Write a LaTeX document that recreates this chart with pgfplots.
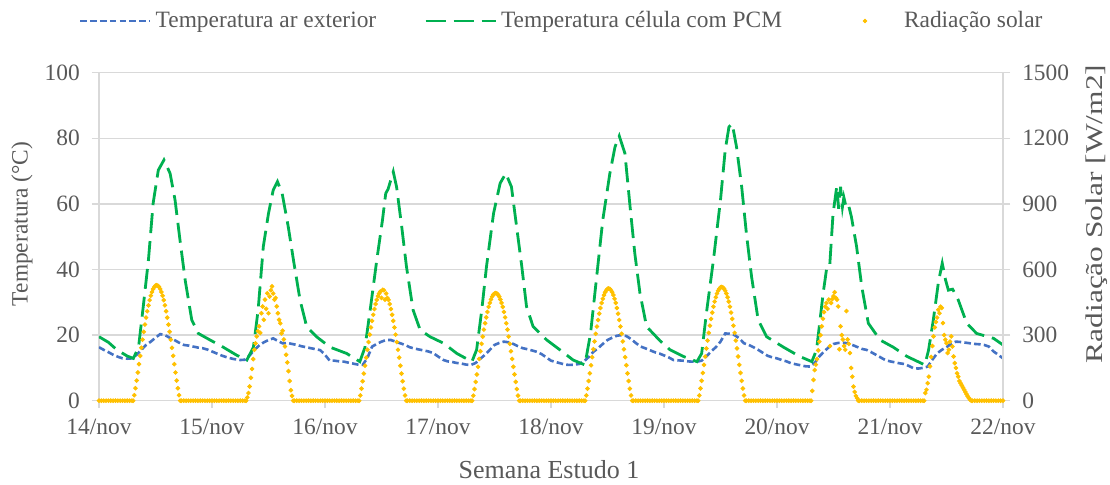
\documentclass[border=0pt]{standalone}
\usepackage{fontspec}
\setmainfont{Liberation Serif}
\usepackage{pgfplots}
\pgfplotsset{compat=1.18}

\definecolor{tblue}{HTML}{4472C4}
\definecolor{tgreen}{HTML}{00B050}
\definecolor{tyellow}{HTML}{FFC000}
\definecolor{gridgray}{HTML}{D9D9D9}
\definecolor{txtgray}{HTML}{595959}
\newcommand{\chartfont}{\fontsize{11.7}{14}\selectfont}
\newcommand{\titlefont}{\fontsize{13}{15}\selectfont}

\pgfplotsset{
  linelegend/.style={legend image code/.code={\draw[##1] (0pt,0pt) -- (35pt,0pt);}},
  dotlegend/.style={legend image code/.code={\path[draw=none] (0pt,0pt) -- (35pt,0pt);\draw[##1] plot coordinates {(17.5pt,0pt)};}},
  base/.style={
    at={(0pt,0pt)}, anchor=south west, scale only axis, width=452pt, height=164pt,
    xmin=0, xmax=192,
    tick align=outside, major tick length=3.5pt,
    tick style={gridgray, line width=0.75pt},
    tick label style={font=\chartfont, text=txtgray},
    label style={font=\chartfont, text=txtgray},
    /pgf/number format/assume math mode=true,
    /pgf/number format/1000 sep={},
  },
}

\begin{document}
\begin{tikzpicture}
\useasboundingbox (-49.5pt,-42.15pt) rectangle (505.5pt,200.35pt);

% temperatures (left axis), time in hours from 14/nov 00:00
\begin{axis}[base,
  ymin=0, ymax=100, ytick={0,20,...,100}, ytick pos=left,
  xtick={0,24,...,192}, xtick pos=bottom,
  xticklabels={14/nov,15/nov,16/nov,17/nov,18/nov,19/nov,20/nov,21/nov,22/nov},
  ymajorgrids, grid style={gridgray, line width=0.75pt},
  axis line style={gridgray, line width=0.75pt},
  yticklabel style={xshift=-2.6pt},
  xticklabel style={yshift=-2.2pt},
  xlabel={Semana Estudo 1},
  xlabel style={at={(axis description cs:0.4978,-0.2113)}, anchor=center, font=\titlefont},
  ylabel={Temperatura (°C)},
  ylabel style={at={(axis description cs:-0.0852,0.539)}, anchor=center},
]
\addplot[tblue, line width=1.3pt, dash pattern=on 3.3pt off 1.6pt] table {
x y
0 16.3
1 15.5
2 14.8
3 14.0
4 13.4
5 12.9
6 12.8
7 12.9
8 14.0
9 15.5
10 17.0
11 18.0
12 19.2
13 20.3
14 20.0
15 19.2
16 18.5
17 17.7
18 17.0
19 16.8
20 16.5
21 16.2
22 16.0
23 15.6
24 15.0
25 14.4
26 13.8
27 13.3
28 12.9
29 12.6
30 12.4
31 12.5
32 13.8
33 15.5
34 16.8
35 17.8
36 18.5
37 19.0
38 18.2
39 17.5
40 17.6
41 17.3
42 17.0
43 16.6
44 16.3
45 16.0
46 15.7
47 15.4
48 14.0
49 12.2
50 12.2
51 12.0
52 11.9
53 11.6
54 11.3
55 11.0
56 10.9
57 13.0
58 16.5
59 17.3
60 18.0
61 18.5
62 18.5
63 18.0
64 17.5
65 17.0
66 16.3
67 15.9
68 15.6
69 15.3
70 15.0
71 14.5
72 13.5
73 12.5
74 12.0
75 11.8
76 11.5
77 11.3
78 11.0
79 10.9
80 11.5
81 12.8
82 14.0
83 15.5
84 17.0
85 17.6
86 18.0
87 17.8
88 17.3
89 16.6
90 16.0
91 15.7
92 15.3
93 14.9
94 14.2
95 13.2
96 12.2
97 11.8
98 11.4
99 11.0
100 10.9
101 11.0
102 11.2
103 12.0
104 13.3
105 14.9
106 16.0
107 17.3
108 18.5
109 19.2
110 19.8
111 20.0
112 19.7
113 18.8
114 17.6
115 16.5
116 16.0
117 15.4
118 14.8
119 14.4
120 13.8
121 13.2
122 12.4
123 12.3
124 12.2
125 12.0
126 11.9
127 11.9
128 12.2
129 13.5
130 15.0
131 16.3
132 18.0
133 20.5
134 20.4
135 20.0
136 19.0
137 17.5
138 17.0
139 16.3
140 15.5
141 14.6
142 13.7
143 13.2
144 12.9
145 12.4
146 12.0
147 11.4
148 11.1
149 10.8
150 10.5
151 10.4
152 11.5
153 13.5
154 15.0
155 16.3
156 17.3
157 17.6
158 17.7
159 17.5
160 17.0
161 16.4
162 15.8
163 15.5
164 14.8
165 14.0
166 13.2
167 12.4
168 12.0
169 11.7
170 11.4
171 11.2
172 10.6
173 9.9
174 9.8
175 10.0
176 10.4
177 12.5
178 14.4
179 15.5
180 16.3
181 17.4
182 18.0
183 17.9
184 17.7
185 17.5
186 17.3
187 17.2
188 17.0
189 16.5
190 15.0
191 14.0
192 12.9
};
\addplot[tgreen, line width=1.4pt, dash pattern=on 10pt off 4pt] table {
x y
0 19.5
2 17.8
3.8 15.5
6 13.6
7.3 12.9
8.4 16.3
9.4 28.7
10.5 42.9
11.5 60.2
12.6 70.3
13.8 73.4
15.1 69.3
16.15 61.2
17.2 49.0
18.3 36.8
19.7 24.6
21.1 20.5
23.6 18.5
26.4 16.3
29.2 13.9
31.4 12.4
32.8 16.3
33.8 27.7
34.9 47.0
36 57.1
37 64.2
37.9 66.8
38.9 63.2
40.2 53.0
41.3 42.9
42.7 30.7
44.1 22.6
46.2 19.5
49.1 16.3
52.6 14.4
55.4 11.9
56.5 16.3
57.6 27.7
59 42.9
60.2 55.0
60.9 63.2
61.4 64.5
62.5 69.8
63.2 65.2
64.3 53.0
65.3 40.9
66.7 27.7
68.2 21.6
70.3 19.5
73.2 17.5
76 14.4
79.2 11.9
80.2 15.5
81.3 27.7
82.3 40.9
83.8 57.1
85.2 66.3
86.4 69.3
87.6 65.2
88.7 53.0
89.8 40.9
90.8 28.7
92.2 22.6
95.1 18.5
97.9 15.5
100.7 12.4
103.2 10.9
104.4 20.5
105.7 37.8
107 55.1
108.5 69.3
109.6 77.4
110.5 80.7
111.7 75.4
112.8 59.1
113.8 44.9
114.9 32.7
116.3 22.6
119.2 18.2
121.3 15.5
124.1 13.5
127 11.9
128 14.4
129 26.6
130.5 42.9
132 61.2
133 76.4
133.8 83.5
134.5 84.4
135.4 77.4
136.5 65.2
137.5 51.0
138.6 37.8
140 24.6
141.8 19.5
145.4 16.3
148.8 13.5
151.4 11.9
152.4 15.5
153.8 32.7
154.6 40.9
155.2 41.2
155.9 56.9
156.7 65.4
157.1 58.5
157.5 65.2
157.9 59.1
158.2 62.0
158.6 59.5
159.1 60.2
159.8 56.1
160.9 47.0
162 34.8
163.4 23.6
165.9 18.5
168.7 16.3
171.6 13.5
175.4 10.9
176.2 15.5
177.2 24.6
178.3 36.3
179.1 41.9
179.8 36.8
180.4 33.7
181.3 34.0
182.5 30.7
184.3 23.6
186.4 20.5
190 19.0
192 17.0
};
\end{axis}

% solar radiation (right axis)
\begin{axis}[base,
  ymin=0, ymax=1500, ytick={0,300,...,1500},
  hide x axis, axis y line*=right,
  y axis line style={gridgray, line width=0.75pt},
  scaled y ticks=false,
  yticklabel style={xshift=2.6pt},
  ylabel={Radiação Solar [W/m2]},
  ylabel style={at={(axis description cs:1.1036,0.569)}, anchor=center,
    font=\fontsize{12}{14}\selectfont, xscale=1.31},
  clip=false,
  legend columns=3,
  legend style={at={(axis description cs:0.5130,1.1576)}, anchor=center,
    draw=none, fill=none, font=\chartfont, text=txtgray,
    /tikz/every even column/.append style={column sep=22pt}},
]
\addlegendimage{tblue, line width=1.3pt, dash pattern=on 3.3pt off 1.6pt, linelegend}
\addlegendentry{Temperatura ar exterior}
\addlegendimage{tgreen, line width=1.4pt, dash pattern=on 10pt off 4pt, linelegend}
\addlegendentry{Temperatura célula com PCM}
\addplot[only marks, mark=*, mark size=0.95pt, color=tyellow, dotlegend] coordinates {
(0,0)(0.5,0)(1,0)(1.5,0)(2,0)(2.5,0)(3,0)(3.5,0)(4,0)(4.5,0)(5,0)(5.5,0)(6,0)(6.5,0)(7,0)(7.25,0)
(7.5,25)(7.75,57)(8,92)(8.25,129)(8.5,167)(8.75,205)(9,242)(9.25,279)(9.5,315)(9.75,348)
(10,380)(10.25,409)(10.5,436)(10.75,460)(11,480)(11.25,497)(11.5,511)(11.75,520)(12,526)(12.25,528)
(12.5,526)(12.75,520)(13,511)(13.25,497)(13.5,480)(13.75,460)(14,436)(14.25,409)(14.5,380)(14.75,348)
(15,315)(15.25,279)(15.5,242)(15.75,205)(16,167)(16.25,129)(16.5,92)(16.75,57)(17,25)
(17.25,0)(17.5,0)(18,0)(18.5,0)(19,0)(19.5,0)(20,0)(20.5,0)(21,0)(21.5,0)(22,0)(22.5,0)(23,0)(23.5,0)
(24,0)(24.5,0)(25,0)(25.5,0)(26,0)(26.5,0)(27,0)(27.5,0)(28,0)(28.5,0)(29,0)(29.5,0)(30,0)(30.5,0)(31,0)(31.25,0)
(31.5,15)(31.75,35)(32,65)(32.25,105)(32.5,145)(32.75,190)(33,233)(33.25,262)(33.5,294)(33.75,318)
(34,340)(34.25,310)(34.5,400)(34.75,431)(35,370)(35.25,462)(35.5,420)(35.75,491)(36,400)(36.25,476)
(36.5,505)(36.75,523)(37,490)(37.25,462)(37.5,470)(37.75,431)(38,400)(38.25,370)(38.5,354)(38.75,308)
(39,320)(39.25,280)(39.5,248)(39.75,210)(40,175)(40.25,135)(40.5,90)(40.75,48)(41,22)
(41.25,0)(41.5,0)(42,0)(42.5,0)(43,0)(43.5,0)(44,0)(44.5,0)(45,0)(45.5,0)(46,0)(46.5,0)(47,0)(47.5,0)
(48,0)(48.5,0)(49,0)(49.5,0)(50,0)(50.5,0)(51,0)(51.5,0)(52,0)(52.5,0)(53,0)(53.5,0)(54,0)(54.5,0)(55,0)(55.25,0)
(55.5,24)(55.75,55)(56,89)(56.25,124)(56.5,160)(56.75,197)(57,233)(57.25,268)(57.5,302)(57.75,335)
(58,365)(58.25,393)(58.5,419)(58.75,442)(59,461)(59.25,478)(59.5,490)(59.75,499)(60,470)(60.25,507)
(60.5,505)(60.75,462)(61,490)(61.25,470)(61.5,461)(61.75,442)(62,419)(62.25,393)(62.5,365)(62.75,335)
(63,302)(63.25,268)(63.5,233)(63.75,197)(64,160)(64.25,124)(64.5,89)(64.75,55)(65,24)
(65.25,0)(65.5,0)(66,0)(66.5,0)(67,0)(67.5,0)(68,0)(68.5,0)(69,0)(69.5,0)(70,0)(70.5,0)(71,0)(71.5,0)
(72,0)(72.5,0)(73,0)(73.5,0)(74,0)(74.5,0)(75,0)(75.5,0)(76,0)(76.5,0)(77,0)(77.5,0)(78,0)(78.5,0)(79,0)(79.25,0)
(79.5,23)(79.75,53)(80,86)(80.25,120)(80.5,155)(80.75,191)(81,226)(81.25,260)(81.5,293)(81.75,325)
(82,354)(82.25,381)(82.5,406)(82.75,429)(83,447)(83.25,463)(83.5,476)(83.75,485)(84,490)(84.25,492)
(84.5,490)(84.75,485)(85,476)(85.25,463)(85.5,447)(85.75,429)(86,406)(86.25,381)(86.5,354)(86.75,325)
(87,293)(87.25,260)(87.5,226)(87.75,191)(88,155)(88.25,120)(88.5,86)(88.75,53)(89,23)
(89.25,0)(89.5,0)(90,0)(90.5,0)(91,0)(91.5,0)(92,0)(92.5,0)(93,0)(93.5,0)(94,0)(94.5,0)(95,0)(95.5,0)
(96,0)(96.5,0)(97,0)(97.5,0)(98,0)(98.5,0)(99,0)(99.5,0)(100,0)(100.5,0)(101,0)(101.5,0)(102,0)(102.5,0)(103,0)(103.25,0)
(103.5,24)(103.75,55)(104,90)(104.25,125)(104.5,162)(104.75,199)(105,235)(105.25,271)(105.5,306)(105.75,339)
(106,369)(106.25,398)(106.5,424)(106.75,447)(107,466)(107.25,483)(107.5,496)(107.75,505)(108,511)(108.25,513)
(108.5,511)(108.75,505)(109,496)(109.25,483)(109.5,466)(109.75,447)(110,424)(110.25,398)(110.5,369)(110.75,339)
(111,306)(111.25,271)(111.5,235)(111.75,199)(112,162)(112.25,125)(112.5,90)(112.75,55)(113,24)
(113.25,0)(113.5,0)(114,0)(114.5,0)(115,0)(115.5,0)(116,0)(116.5,0)(117,0)(117.5,0)(118,0)(118.5,0)(119,0)(119.5,0)
(120,0)(120.5,0)(121,0)(121.5,0)(122,0)(122.5,0)(123,0)(123.5,0)(124,0)(124.5,0)(125,0)(125.5,0)(126,0)(126.5,0)(127,0)(127.25,0)
(127.5,24)(127.75,56)(128,91)(128.25,127)(128.5,164)(128.75,202)(129,239)(129.25,275)(129.5,310)(129.75,343)
(130,374)(130.25,403)(130.5,430)(130.75,453)(131,473)(131.25,490)(131.5,503)(131.75,512)(132,518)(132.25,520)
(132.5,518)(132.75,512)(133,503)(133.25,490)(133.5,473)(133.75,453)(134,430)(134.25,403)(134.5,374)(134.75,343)
(135,310)(135.25,275)(135.5,239)(135.75,202)(136,164)(136.25,127)(136.5,91)(136.75,56)(137,24)
(137.25,0)(137.5,0)(138,0)(138.5,0)(139,0)(139.5,0)(140,0)(140.5,0)(141,0)(141.5,0)(142,0)(142.5,0)(143,0)(143.5,0)
(144,0)(144.5,0)(145,0)(145.5,0)(146,0)(146.5,0)(147,0)(147.5,0)(148,0)(148.5,0)(149,0)(149.5,0)(150,0)(150.5,0)(151,0)(151.25,0)
(151.5,45)(151.75,95)(152,140)(152.25,165)(152.5,190)(152.75,230)(153,270)(153.25,300)(153.5,340)(153.75,375)
(154,405)(154.25,430)(154.5,447)(154.75,420)(155,462)(155.25,250)(155.5,447)(155.75,465)(156,478)(156.25,496)
(156.5,470)(156.75,462)(157,431)(157.25,235)(157.5,340)(157.75,300)(158,280)(158.25,250)(158.5,233)(158.75,410)
(159,280)(159.25,260)(159.5,218)(159.75,150)(160,110)(160.25,64)(160.5,40)(160.75,22)(161,12)
(161.25,0)(161.5,0)(162,0)(162.5,0)(163,0)(163.5,0)(164,0)(164.5,0)(165,0)(165.5,0)(166,0)(166.5,0)(167,0)(167.5,0)
(168,0)(168.5,0)(169,0)(169.5,0)(170,0)(170.5,0)(171,0)(171.5,0)(172,0)(172.5,0)(173,0)(173.5,0)(174,0)(174.5,0)(175,0)(175.25,0)
(175.5,35)(175.75,50)(176,80)(176.25,110)(176.5,157)(176.75,200)(177,250)(177.25,294)(177.5,335)(177.75,360)
(178,380)(178.25,416)(178.5,400)(178.75,430)(179,424)(179.25,355)(179.5,300)(179.75,279)(180,263)(180.25,218)
(180.5,233)(180.75,270)(181,294)(181.25,248)(181.5,202)(181.75,172)(182,150)(182.25,125)(182.5,110)(182.75,90)
(183,80)(183.25,70)(183.5,60)(183.75,50)(184,40)(184.25,30)(184.5,20)(184.75,12)(185,5)
(185.25,0)(185.5,0)(186,0)(186.5,0)(187,0)(187.5,0)(188,0)(188.5,0)(189,0)(189.5,0)(190,0)(190.5,0)(191,0)(191.5,0)(192,0)
};
\addlegendentry{Radiação solar}
\end{axis}
\end{tikzpicture}
\end{document}
